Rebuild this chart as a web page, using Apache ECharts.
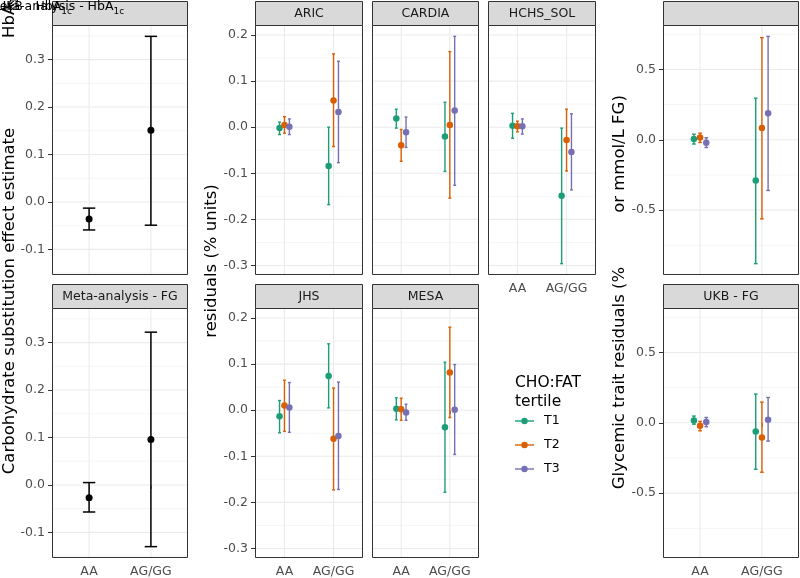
<!DOCTYPE html>
<html><head><meta charset="utf-8">
<script src="https://cdn.jsdelivr.net/npm/echarts@6/dist/echarts.min.js"></script>
<style>html,body{margin:0;padding:0;background:#fff}#c{width:800px;height:578px}</style>
</head><body><div id="c"></div>
<script>
// ---------- data ----------
const genotypes = ['AA', 'AG/GG'];
const tertiles = ['T1', 'T2', 'T3'];
const tertileColors = ['#1B9E77', '#D95F02', '#7570B3'];

// each row: [estimate, lower, upper] for AA then AG/GG
const metaHbA1c = [[-0.036, -0.059, -0.013], [0.151, -0.049, 0.349]];
const metaFG    = [[-0.027, -0.057, 0.005], [0.096, -0.130, 0.322]];

const ARIC_T1 = [[-0.002, -0.016, 0.011], [-0.084, -0.168, 0.000]];
const ARIC_T2 = [[0.005, -0.013, 0.023], [0.058, -0.042, 0.159]];
const ARIC_T3 = [[0.001, -0.016, 0.018], [0.033, -0.077, 0.143]];

const CARDIA_T1 = [[0.019, -0.002, 0.039], [-0.020, -0.096, 0.054]];
const CARDIA_T2 = [[-0.039, -0.074, -0.005], [0.005, -0.154, 0.164]];
const CARDIA_T3 = [[-0.011, -0.044, 0.022], [0.036, -0.126, 0.197]];

const HCHS_T1 = [[0.003, -0.024, 0.030], [-0.149, -0.296, -0.002]];
const HCHS_T2 = [[0.002, -0.010, 0.013], [-0.028, -0.095, 0.039]];
const HCHS_T3 = [[0.002, -0.015, 0.018], [-0.054, -0.136, 0.029]];

const JHS_T1 = [[-0.013, -0.049, 0.021], [0.074, 0.005, 0.144]];
const JHS_T2 = [[0.010, -0.046, 0.065], [-0.062, -0.173, 0.048]];
const JHS_T3 = [[0.006, -0.048, 0.060], [-0.056, -0.172, 0.061]];

const MESA_T1 = [[0.003, -0.021, 0.027], [-0.037, -0.178, 0.104]];
const MESA_T2 = [[0.002, -0.022, 0.026], [0.082, -0.016, 0.180]];
const MESA_T3 = [[-0.005, -0.022, 0.013], [0.001, -0.096, 0.099]];

const UKBH_T1 = [[0.005, -0.030, 0.040], [-0.290, -0.880, 0.296]];
const UKBH_T2 = [[0.016, -0.019, 0.047], [0.083, -0.562, 0.726]];
const UKBH_T3 = [[-0.021, -0.055, 0.014], [0.189, -0.360, 0.735]];

const UKBF_T1 = [[0.016, -0.010, 0.048], [-0.062, -0.330, 0.204]];
const UKBF_T2 = [[-0.021, -0.057, 0.010], [-0.104, -0.351, 0.147]];
const UKBF_T3 = [[0.005, -0.028, 0.038], [0.021, -0.130, 0.180]];

const ticksMeta = [-0.1, 0.0, 0.1, 0.2, 0.3];
const ticksCohort = [-0.3, -0.2, -0.1, 0.0, 0.1, 0.2];
const ticksUKB = [-0.5, 0.0, 0.5];

// ---------- layout ----------
const FONT = 'DejaVu Sans';
const panels = [
  {strip: '', x: 52, y: 25, w: 136, h: 250, scale: 'meta', yl: true, xl: false, groups: [metaHbA1c], cap: 0.2, dodge: 0},
  {strip: 'Meta-analysis - FG', x: 52, y: 308, w: 136, h: 250, scale: 'meta', yl: true, xl: true, groups: [metaFG], cap: 0.2, dodge: 0},
  {strip: 'ARIC', x: 255, y: 25, w: 108, h: 250, scale: 'cohort', yl: true, xl: false, groups: [ARIC_T1, ARIC_T2, ARIC_T3], cap: 0.06, dodge: 0.1},
  {strip: 'CARDIA', x: 372, y: 25, w: 107, h: 250, scale: 'cohort', yl: false, xl: false, groups: [CARDIA_T1, CARDIA_T2, CARDIA_T3], cap: 0.06, dodge: 0.1},
  {strip: 'HCHS_SOL', x: 488, y: 25, w: 108, h: 250, scale: 'cohort', yl: false, xl: true, groups: [HCHS_T1, HCHS_T2, HCHS_T3], cap: 0.06, dodge: 0.1},
  {strip: 'JHS', x: 255, y: 308, w: 108, h: 250, scale: 'cohort', yl: true, xl: true, groups: [JHS_T1, JHS_T2, JHS_T3], cap: 0.06, dodge: 0.1},
  {strip: 'MESA', x: 372, y: 308, w: 107, h: 250, scale: 'cohort', yl: false, xl: true, groups: [MESA_T1, MESA_T2, MESA_T3], cap: 0.06, dodge: 0.1},
  {strip: '', x: 663, y: 25, w: 136, h: 250, scale: 'ukb', yl: true, xl: false, groups: [UKBH_T1, UKBH_T2, UKBH_T3], cap: 0.06, dodge: 0.1},
  {strip: 'UKB - FG', x: 663, y: 308, w: 136, h: 250, scale: 'ukb', yl: true, xl: true, groups: [UKBF_T1, UKBF_T2, UKBF_T3], cap: 0.06, dodge: 0.1}
];
const tickSets = {meta: ticksMeta, cohort: ticksCohort, ukb: ticksUKB};

// ggplot-style limits: data range expanded 5% on both sides, shared within a scale
const limits = {};
panels.forEach(p => {
  p.groups.forEach(g => g.forEach(r => {
    const L = limits[p.scale] || (limits[p.scale] = {lo: Infinity, hi: -Infinity});
    L.lo = Math.min(L.lo, r[1]); L.hi = Math.max(L.hi, r[2]);
  }));
});
Object.values(limits).forEach(L => { const s = (L.hi - L.lo) * 0.05; L.min = L.lo - s; L.max = L.hi + s; });

function minorTicks(t, L) {
  const step = t[1] - t[0], out = [];
  for (let i = -1; i < t.length; i++) {
    const v = (i < 0 ? t[0] : t[i]) + (i < 0 ? -step / 2 : step / 2);
    if (v > L.min && v < L.max) out.push(+v.toFixed(4));
  }
  return out;
}

const grids = [], xAxes = [], yAxes = [], series = [], graphics = [];

function gridRender(params, api) {
  const cs = params.coordSys, kind = api.value(0), v = api.value(1);
  if (kind === 2) {
    const x = api.coord([v, 0])[0];
    return {type: 'line', shape: {x1: x, y1: cs.y, x2: x, y2: cs.y + cs.height}, style: {stroke: '#EBEBEB', lineWidth: 1.1}};
  }
  const y = api.coord([1, v])[1];
  return {type: 'line', shape: {x1: cs.x, y1: y, x2: cs.x + cs.width, y2: y},
    style: {stroke: kind === 0 ? '#EBEBEB' : '#F2F2F2', lineWidth: kind === 0 ? 1.1 : 0.8}};
}
function errRender(capW, color, lw) {
  return function (params, api) {
    const x = api.value(0), lo = api.value(1), hi = api.value(2);
    const a = api.coord([x, hi]), b = api.coord([x, lo]);
    const hw = api.size([capW, 0])[0] / 2;
    const st = {stroke: color, lineWidth: lw};
    return {type: 'group', children: [
      {type: 'line', shape: {x1: a[0], y1: a[1], x2: b[0], y2: b[1]}, style: st},
      {type: 'line', shape: {x1: a[0] - hw, y1: a[1], x2: a[0] + hw, y2: a[1]}, style: st},
      {type: 'line', shape: {x1: b[0] - hw, y1: b[1], x2: b[0] + hw, y2: b[1]}, style: st}
    ]};
  };
}

panels.forEach((p, i) => {
  const L = limits[p.scale], ticks = tickSets[p.scale];
  grids.push({left: p.x, top: p.y, width: p.w, height: p.h, show: true, backgroundColor: '#fff', borderWidth: 0});
  xAxes.push({
    type: 'value', gridIndex: i, min: 0.4, max: 2.6,
    axisLine: {show: false}, splitLine: {show: false},
    axisTick: {show: p.xl, customValues: [1, 2], length: 4, lineStyle: {color: '#333', width: 1}},
    axisLabel: {show: p.xl, customValues: [1, 2], margin: 7, color: '#4D4D4D', fontSize: 12.5, fontFamily: FONT,
      formatter: v => genotypes[Math.round(v) - 1]}
  });
  yAxes.push({
    type: 'value', gridIndex: i, min: L.min, max: L.max,
    axisLine: {show: false}, splitLine: {show: false},
    axisTick: {show: p.yl, customValues: ticks, length: 4, lineStyle: {color: '#333', width: 1}},
    axisLabel: {show: p.yl, customValues: ticks, margin: 7, color: '#4D4D4D', fontSize: 12.5, fontFamily: FONT,
      formatter: v => v.toFixed(1)}
  });
  const gl = [];
  ticks.forEach(v => gl.push([0, v]));
  minorTicks(ticks, L).forEach(v => gl.push([1, v]));
  [1, 2].forEach(v => gl.push([2, v]));
  series.push({type: 'custom', xAxisIndex: i, yAxisIndex: i, z: 1, silent: true, renderItem: gridRender, data: gl});

  const single = p.groups.length === 1;
  p.groups.forEach((g, t) => {
    const color = single ? '#000000' : tertileColors[t];
    const off = single ? 0 : (t - 1) * p.dodge;
    const name = single ? 'est' : tertiles[t];
    series.push({type: 'custom', xAxisIndex: i, yAxisIndex: i, z: 3, silent: true,
      renderItem: errRender(p.cap, color, single ? 1.5 : 1.4),
      data: g.map((r, k) => [k + 1 + off, r[1], r[2]])});
    series.push({type: 'scatter', name, xAxisIndex: i, yAxisIndex: i, z: 4, silent: true,
      symbol: 'circle', symbolSize: single ? 7 : 6.5, itemStyle: {color, opacity: 1},
      data: g.map((r, k) => [k + 1 + off, r[0]])});
  });

  // panel border
  graphics.push({type: 'rect', z: 100, shape: {x: p.x + 0.5, y: p.y + 0.5, width: p.w - 1, height: p.h - 1},
    style: {fill: 'none', stroke: '#333333', lineWidth: 1}});
  // strip
  graphics.push({type: 'rect', z: 100, shape: {x: p.x + 0.5, y: p.y - 23.5, width: p.w - 1, height: 24},
    style: {fill: '#D9D9D9', stroke: '#333333', lineWidth: 1}});
  if (p.strip) graphics.push({type: 'text', z: 101, x: p.x + p.w / 2, y: p.y - 11.5,
    style: {text: p.strip, fontSize: 12.5, fontFamily: FONT, fill: '#1A1A1A', align: 'center', verticalAlign: 'middle'}});
});

// axis titles
const titleStyle = {fontSize: 16.5, fontFamily: FONT, fill: '#000', align: 'center', verticalAlign: 'middle'};
graphics.push({type: 'text', z: 101, x: 10, y: 301, rotation: Math.PI / 2,
  style: Object.assign({}, titleStyle, {text: 'Carbohydrate substitution effect estimate'})});
graphics.push({type: 'text', z: 101, x: 212, y: 261, rotation: Math.PI / 2,
  style: Object.assign({}, titleStyle, {text: 'residuals (% units)'})});
graphics.push({type: 'text', z: 101, x: 620, y: 154, rotation: Math.PI / 2,
  style: Object.assign({}, titleStyle, {text: 'or mmol/L FG)'})});
graphics.push({type: 'text', z: 101, x: 620, y: 378, rotation: Math.PI / 2,
  style: Object.assign({}, titleStyle, {text: 'Glycemic trait residuals (%'})});

// displaced labels piled up in the top-left corner
const subRich = {s: {fontSize: 9, fontFamily: FONT, fill: '#000', padding: [9, 0, 0, 0]}};
graphics.push({type: 'text', z: 102, x: 10, y: 38, rotation: Math.PI / 2,
  style: {text: 'HbA{s|1c}', fontSize: 16.5, fontFamily: FONT, fill: '#000', align: 'left', verticalAlign: 'middle',
    rich: {s: {fontSize: 11, fontFamily: FONT, fill: '#000', padding: [10, 0, 0, 0]}}}});
graphics.push({type: 'text', z: 102, x: -11, y: 7,
  style: {text: 'Meta-analysis - HbA{s|1c}', fontSize: 12.5, fontFamily: FONT, fill: '#000', align: 'left', verticalAlign: 'middle', rich: subRich}});
graphics.push({type: 'text', z: 102, x: -3, y: 7,
  style: {text: 'UKB - HbA{s|1c}', fontSize: 12.5, fontFamily: FONT, fill: '#000', align: 'left', verticalAlign: 'middle', rich: subRich}});

// legend
const legX = 515, legY0 = 421, legStep = 24;
graphics.push({type: 'text', z: 101, x: legX, y: legY0 - 38,
  style: {text: 'CHO:FAT', fontSize: 15.5, fontFamily: FONT, fill: '#000', align: 'left', verticalAlign: 'middle'}});
graphics.push({type: 'text', z: 101, x: legX, y: legY0 - 19,
  style: {text: 'tertile', fontSize: 15.5, fontFamily: FONT, fill: '#000', align: 'left', verticalAlign: 'middle'}});
tertiles.forEach((t, k) => {
  const y = legY0 + k * legStep;
  graphics.push({type: 'line', z: 101, shape: {x1: legX, y1: y, x2: legX + 19, y2: y}, style: {stroke: tertileColors[k], lineWidth: 1.4}});
  graphics.push({type: 'circle', z: 101, shape: {cx: legX + 9.5, cy: y, r: 3.2}, style: {fill: tertileColors[k]}});
  graphics.push({type: 'text', z: 101, x: legX + 29, y,
    style: {text: t, fontSize: 12.5, fontFamily: FONT, fill: '#000', align: 'left', verticalAlign: 'middle'}});
});

const chart = echarts.init(document.getElementById('c'), null, {renderer: 'canvas'});
chart.setOption({
  animation: false,
  backgroundColor: '#ffffff',
  grid: grids, xAxis: xAxes, yAxis: yAxes, series,
  graphic: {elements: graphics}
});
</script></body></html>
